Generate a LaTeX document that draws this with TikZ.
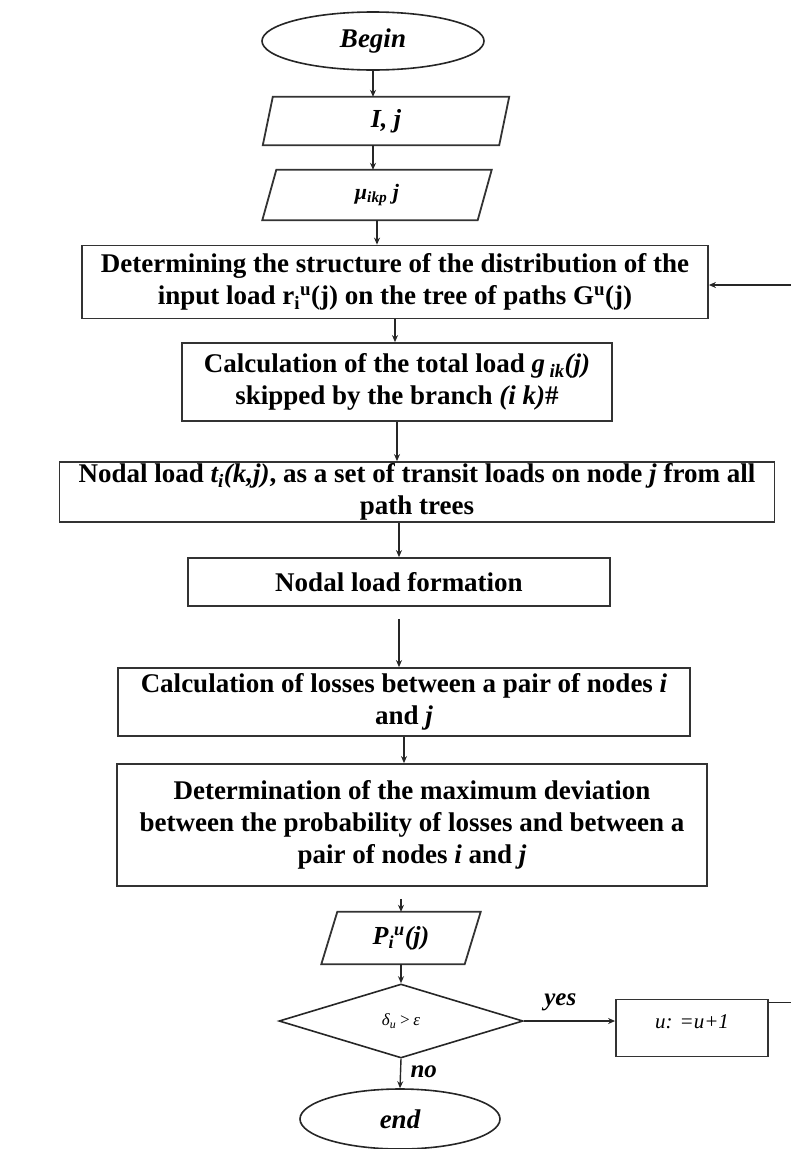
\documentclass[tikz,border=0pt]{standalone}
\usepackage{fontspec}
\setmainfont{Liberation Serif}
\usetikzlibrary{shapes.geometric,arrows.meta,calc}
\begin{document}
\begin{tikzpicture}[x=1pt,y=-1pt,
  arr/.style={draw=black!85, line width=1.4pt, -{Stealth[length=7pt,width=6pt]}},
  ln/.style={draw=black!85, line width=1.4pt},
  procbox/.style={draw=black!80, line width=1.8pt, rectangle, align=center, inner sep=0pt,
     font=\fontsize{27}{32}\selectfont\bfseries},
  termnode/.style={draw=black!85, line width=1.6pt, ellipse, inner sep=0pt,
     font=\fontsize{27}{32}\selectfont\bfseries\itshape},
  ionode/.style={rectangle, inner sep=0pt, font=\fontsize{26}{30}\selectfont\bfseries\itshape},
  iodraw/.style={draw=black!80, line width=1.8pt},
  decnode/.style={diamond, draw=black!85, line width=1.6pt, inner sep=0pt, aspect=3.3,
     font=\fontsize{17}{20}\selectfont\itshape},
  lbl/.style={font=\fontsize{25}{28}\selectfont\bfseries\itshape}
]
\useasboundingbox (0,0) rectangle (791,1149);

% nodes
\node[termnode, minimum width=222, minimum height=58] (begin) at (373,41) {Begin};

\node[ionode, minimum width=236, minimum height=48] (ij) at (386,121) {I, j};
\draw[iodraw] ($(ij.north west)+(5,0)$) -- ($(ij.north east)+(5,0)$) -- ($(ij.south east)+(-5,0)$) -- ($(ij.south west)+(-5,0)$) -- cycle;

\node[ionode, minimum width=215, minimum height=50, font=\fontsize{22}{26}\selectfont\bfseries\itshape] (mu) at (377,195) {μ\textsubscript{ikp} j};
\draw[iodraw] ($(mu.north west)+(7,0)$) -- ($(mu.north east)+(7,0)$) -- ($(mu.south east)+(-7,0)$) -- ($(mu.south west)+(-7,0)$) -- cycle;

\node[procbox, minimum width=626, minimum height=73] (det) at (395,282)
  {Determining the structure of the distribution of the\\
   input load r\textsubscript{i}\textsuperscript{u}(j) on the tree of paths G\textsuperscript{u}(j)};

\node[procbox, minimum width=430, minimum height=78] (calc) at (397,382)
  {Calculation of the total load \textit{g\,\textsubscript{ik}(j)}\\
   skipped by the branch \textit{(i k)}\#};

\node[procbox, minimum width=715, minimum height=60] (nodal) at (417,492)
  {Nodal load \textit{t\textsubscript{i}(k,j)}, as a set of transit loads on node \textit{j} from all\\
   path trees};

\node[procbox, minimum width=422, minimum height=48] (form) at (399,582)
  {Nodal load formation};

\node[procbox, minimum width=572, minimum height=68] (loss) at (404,702)
  {Calculation of losses between a pair of nodes \textit{i}\\ and \textit{j}};

\node[procbox, minimum width=590, minimum height=122] (detm) at (412,825)
  {Determination of the maximum deviation\\
   between the probability of losses and between a\\
   pair of nodes \textit{i} and \textit{j}};

\node[ionode, minimum width=143, minimum height=52] (P) at (401,938)
  {P\textsubscript{i}\textsuperscript{u}(j)};
\draw[iodraw] ($(P.north west)+(8,0)$) -- ($(P.north east)+(8,0)$) -- ($(P.south east)+(-8,0)$) -- ($(P.south west)+(-8,0)$) -- cycle;

\node[decnode, minimum width=244, minimum height=74] (dia) at (401,1021)
  {δ\textsubscript{u}\,>\,ε};

\node[procbox, minimum width=152, minimum height=57, font=\fontsize{21}{24}\selectfont\itshape] (ubox) at (692,1028)
  {\raisebox{12pt}{u: =u+1}};

\node[termnode, minimum width=200, minimum height=60] (endn) at (400,1119) {end};

\coordinate (uout) at ($(ubox.north east)+(0,4)$);
\coordinate (loopX) at (820,0);
\coordinate (loopT) at (820,285);

% connectors
\draw[arr] (begin.south) -- (begin.south |- ij.north);
\draw[arr] (ij.south -| begin.south) -- (mu.north -| begin.south);
\draw[arr] (mu.south) -- (mu.south |- det.north);
\draw[arr] (det.south) -- (det.south |- calc.north);
\draw[arr] (calc.south) -- (calc.south |- nodal.north);
\draw[arr] (form.north |- nodal.south) -- (form.north);
\draw[arr, shorten <=12pt] (form.south) -- (form.south |- loss.north);
\draw[arr] (loss.south) -- (loss.south |- detm.north);
\draw[arr, shorten <=12pt] (P.north |- detm.south) -- (P.north);
\draw[arr] (P.south) -- (dia.north);
\draw[arr] (dia.east) -- (dia.east -| ubox.west) node[lbl, pos=0.4, above=6pt] {yes};
\draw[arr] (dia.south) -- (endn.north) node[lbl, pos=0.45, right=6pt] {no};
\draw[ln] (uout) -- (uout -| loopX) -- (loopT);
\draw[arr] (loopT) -- (loopT -| det.east);
\end{tikzpicture}
\end{document}
